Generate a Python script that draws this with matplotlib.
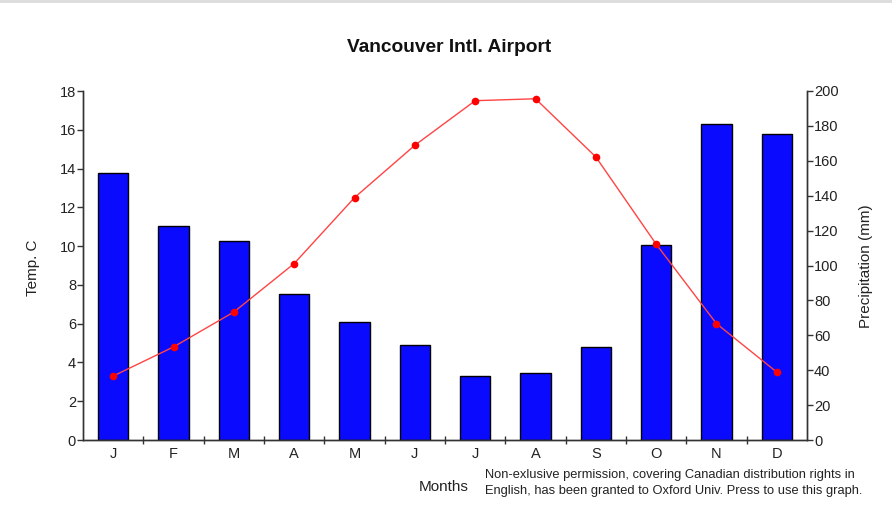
import numpy as np
import matplotlib
matplotlib.use("Agg")
import matplotlib.pyplot as plt
from matplotlib.patches import Rectangle

plt.rcParams["font.family"] = ["Liberation Sans", "DejaVu Sans"]

months = ["J", "F", "M", "A", "M", "J", "J", "A", "S", "O", "N", "D"]
temp_c = [3.3, 4.8, 6.6, 9.1, 12.5, 15.2, 17.5, 17.6, 14.6, 10.1, 6.0, 3.5]
precip_mm = [153, 122.6, 114, 83.8, 67.8, 54.4, 36.7, 38.6, 53.1, 112, 181, 175.3]
temp_ticks = list(range(0, 19, 2))
precip_ticks = list(range(0, 201, 20))

axis_col = "#333333"
text_col = "#222222"

fig = plt.figure(figsize=(8.92, 5.21), dpi=100)
fig.patches.append(Rectangle((0, 1 - 3 / 521), 1, 3 / 521, transform=fig.transFigure,
                             facecolor="#dddddd", edgecolor="none"))

# precipitation bars on the base axes (ticks on the right)
ax = fig.add_axes([83 / 892, 81 / 521, 724 / 892, 349 / 521])
x = np.arange(len(months))
ax.bar(x, precip_mm, width=0.5, color="#0a0aff", edgecolor="black", linewidth=1, zorder=2)
ax.set_xlim(-0.5, len(months) - 0.5)
ax.set_ylim(0, 200)
ax.set_yticks(precip_ticks)

# temperature line on the twin axes (ticks on the left)
ax2 = ax.twinx()
ax2.plot(x, temp_c, color="#ff4444", linewidth=1, marker="o", markersize=4.5,
         markerfacecolor="#ff0000", markeredgecolor="#ff0000", zorder=3)
ax2.set_ylim(0, 18)
ax2.set_yticks(temp_ticks)

ax.yaxis.tick_right()
ax2.yaxis.tick_left()

for a in (ax, ax2):
    a.spines["top"].set_visible(False)
    for s in ("left", "right", "bottom"):
        a.spines[s].set_color(axis_col)
        a.spines[s].set_linewidth(1)
    a.tick_params(axis="y", direction="out", length=4, width=1, color=axis_col,
                  labelsize=10.5, labelcolor=text_col, pad=1)

ax.set_xticks(x)
ax.set_xticklabels(months)
ax.set_xticks(np.arange(0.5, len(months) - 1, 1), minor=True)
ax.tick_params(axis="x", which="major", length=0, labelsize=10.5, labelcolor=text_col, pad=5)
ax.tick_params(axis="x", which="minor", direction="inout", length=6, width=1, color=axis_col)

fig.text(449 / 892, 1 - 48 / 521, "Vancouver Intl. Airport", ha="center", va="center",
         fontsize=13.8, fontweight="bold", color="#111111")
fig.text(33 / 892, 1 - 268 / 521, "Temp. C", rotation=90, ha="center", va="center",
         fontsize=11, color=text_col)
fig.text(866 / 892, 1 - 266 / 521, "Precipitation (mm)", rotation=90, ha="center", va="center",
         fontsize=11, color=text_col)
fig.text(444 / 892, 1 - 487 / 521, "Months", ha="center", va="center",
         fontsize=11, color=text_col)
fig.text(485 / 892, 1 - 483 / 521,
         "Non-exlusive permission, covering Canadian distribution rights in\n"
         "English, has been granted to Oxford Univ. Press to use this graph.",
         ha="left", va="center", fontsize=9.3, color=text_col, linespacing=1.5)

fig.savefig("out.png", dpi=100)
